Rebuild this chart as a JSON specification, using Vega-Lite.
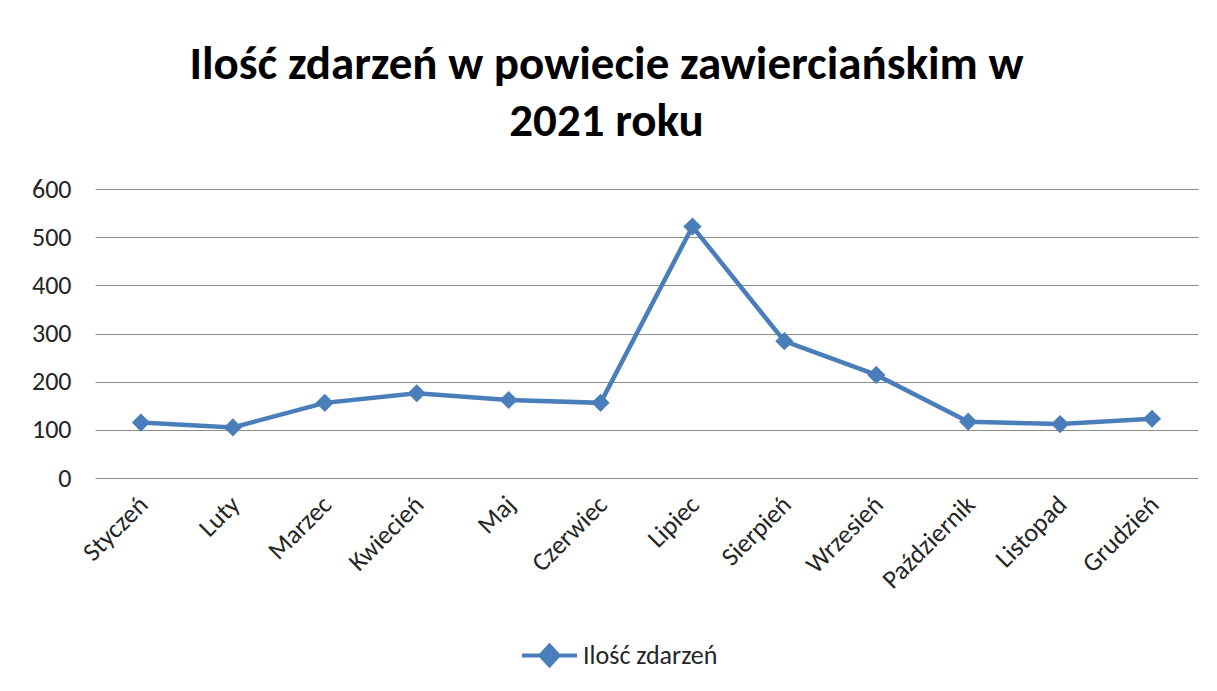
{
  "$schema": "https://vega.github.io/schema/vega-lite/v6.json",
  "autosize": {"type": "none"},
  "width": 1103,
  "height": 289,
  "padding": {"left": 95, "top": 189, "right": 19, "bottom": 213},
  "background": "white",
  "title": {
    "text": ["Ilość zdarzeń w powiecie zawierciańskim w", "2021 roku"],
    "font": "Carlito, Open Sans",
    "fontSize": 47,
    "fontWeight": "bold",
    "color": "#000000",
    "anchor": "middle",
    "dx": -40,
    "offset": 30,
    "lineHeight": 57
  },
  "data": {
    "values": [
      {"miesiac": "Styczeń", "zdarzenia": 115},
      {"miesiac": "Luty", "zdarzenia": 105},
      {"miesiac": "Marzec", "zdarzenia": 156},
      {"miesiac": "Kwiecień", "zdarzenia": 176},
      {"miesiac": "Maj", "zdarzenia": 162},
      {"miesiac": "Czerwiec", "zdarzenia": 156},
      {"miesiac": "Lipiec", "zdarzenia": 522},
      {"miesiac": "Sierpień", "zdarzenia": 284},
      {"miesiac": "Wrzesień", "zdarzenia": 214},
      {"miesiac": "Październik", "zdarzenia": 117},
      {"miesiac": "Listopad", "zdarzenia": 112},
      {"miesiac": "Grudzień", "zdarzenia": 123}
    ]
  },
  "encoding": {
    "x": {
      "field": "miesiac",
      "type": "ordinal",
      "sort": null,
      "title": null,
      "axis": {
        "labelAngle": -45,
        "labelFont": "Carlito, Open Sans",
        "labelFontSize": 26,
        "labelColor": "#262626",
        "labelPadding": 13,
        "labelOffset": -7,
        "ticks": false,
        "domain": false,
        "grid": false
      }
    },
    "y": {
      "field": "zdarzenia",
      "type": "quantitative",
      "title": null,
      "scale": {"domain": [0, 600], "nice": false},
      "axis": {
        "values": [0, 100, 200, 300, 400, 500, 600],
        "labelFont": "Carlito, Open Sans",
        "labelFontSize": 26,
        "labelColor": "#262626",
        "labelPadding": 24,
        "ticks": false,
        "domain": false,
        "grid": true,
        "gridColor": "#8c8c8c",
        "gridWidth": 1
      }
    },
    "color": {
      "datum": "Ilość zdarzeń",
      "type": "nominal",
      "scale": {"range": ["#4A7EBB"]},
      "legend": {
        "title": null,
        "orient": "none",
        "legendX": 425,
        "legendY": 437,
        "labelFont": "Carlito, Open Sans",
        "labelFontSize": 26,
        "labelColor": "#262626",
        "symbolType": "M-1,0H1M0,-0.36L0.33,0L0,0.36L-0.33,0Z",
        "symbolSize": 3025,
        "symbolStrokeWidth": 4,
        "symbolFillColor": "#4A7EBB",
        "symbolStrokeColor": "#4A7EBB",
        "labelOffset": 4
      }
    }
  },
  "layer": [
    {"mark": {"type": "line", "strokeWidth": 4.5}},
    {"mark": {"type": "point", "shape": "diamond", "filled": true, "size": 330, "opacity": 1}}
  ],
  "config": {"view": {"stroke": null}}
}
